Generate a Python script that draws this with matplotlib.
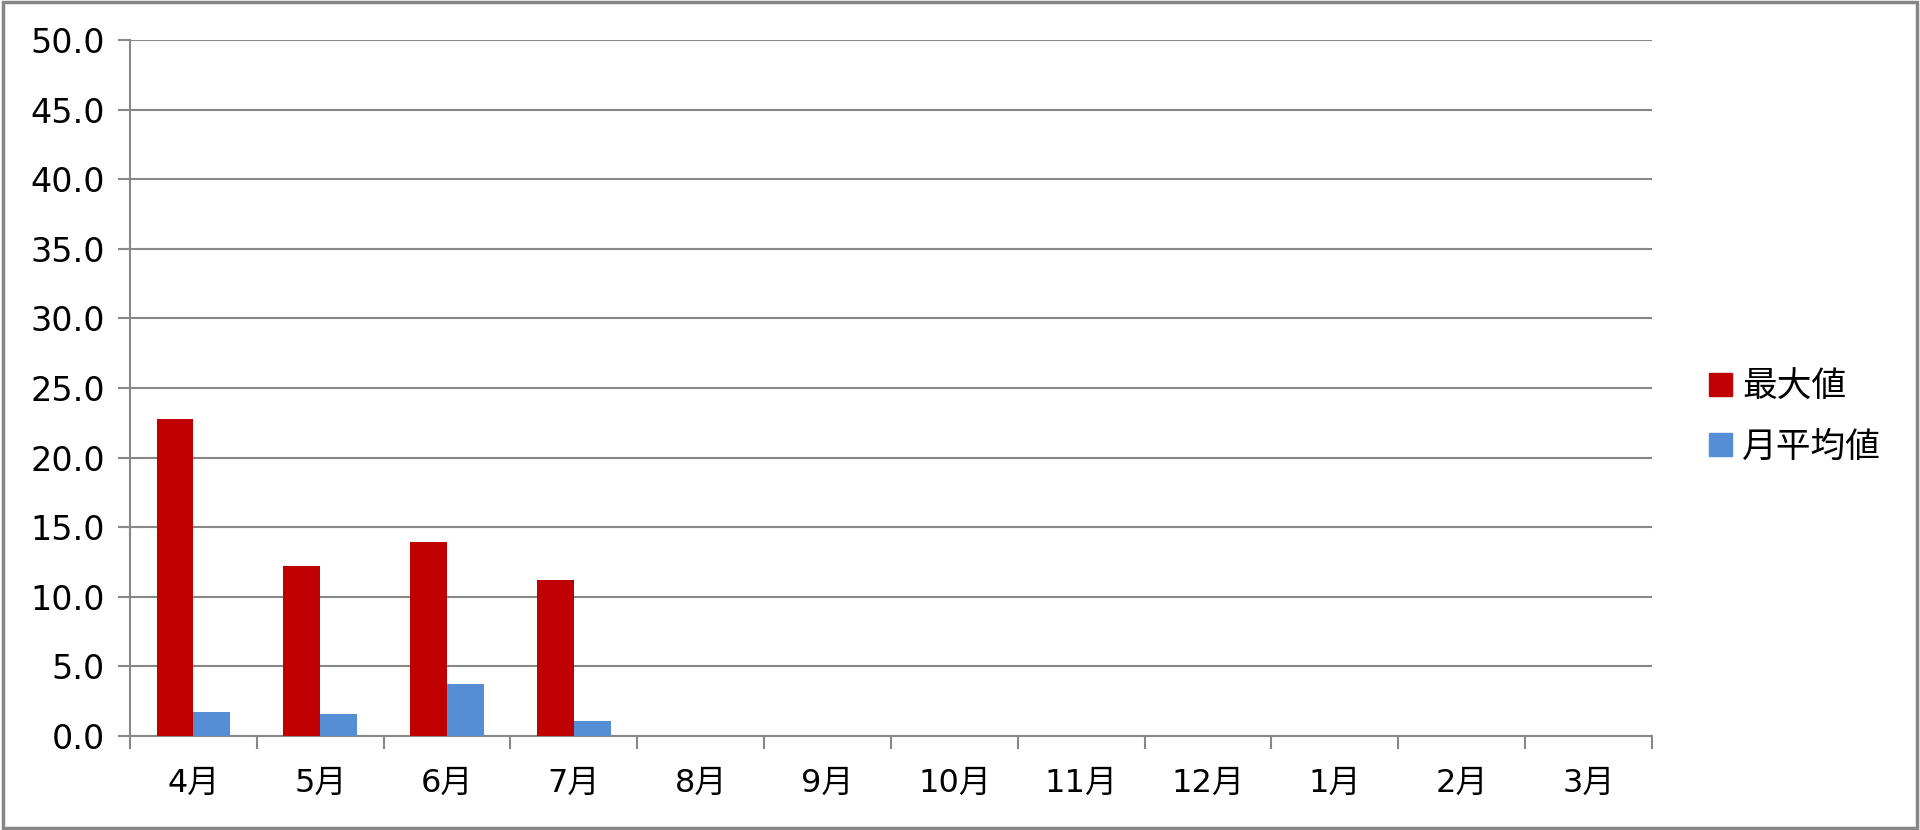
#!/usr/bin/env python3
"""Monthly max / average bar chart (April to March)."""
import matplotlib
matplotlib.use("Agg")
import matplotlib.pyplot as plt
from matplotlib.patches import Patch, Rectangle
import numpy as np

# wide latin digits first, CJK glyphs fall back to Noto
plt.rcParams["font.family"] = ["DejaVu Sans", "Noto Sans CJK JP"]

MONTHS = ["4月", "5月", "6月", "7月", "8月", "9月", "10月", "11月", "12月", "1月", "2月", "3月"]
MAX_VALUES = [22.8, 12.2, 13.9, 11.2]
AVG_VALUES = [1.7, 1.6, 3.7, 1.1]
SERIES_NAMES = ["最大値", "月平均値"]
Y_TICKS = np.arange(0, 50.1, 5)

RED = "#C00000"
BLUE = "#558ED5"
GRID = "#878787"

fig = plt.figure(figsize=(19.2, 8.3), dpi=100)
ax = fig.add_axes([0.0677, 0.1133, 0.7927, 0.8385])

width = 0.29
x_data = np.arange(len(MAX_VALUES))
ax.bar(x_data - width / 2, MAX_VALUES, width, color=RED, zorder=3)
ax.bar(x_data + width / 2, AVG_VALUES, width, color=BLUE, zorder=3)

ax.set_xlim(-0.5, len(MONTHS) - 0.5)
ax.set_ylim(0, 50)

ax.set_yticks(Y_TICKS)
ax.set_yticklabels([f"{v:.1f}" for v in Y_TICKS], fontsize=24)
ax.yaxis.grid(True, color=GRID, linewidth=1.5, zorder=0)

ax.set_xticks(np.arange(len(MONTHS)))
ax.set_xticklabels(MONTHS, fontsize=23)
ax.set_xticks(np.arange(len(MONTHS) + 1) - 0.5, minor=True)
ax.tick_params(axis="x", which="major", length=0, pad=23)
ax.tick_params(axis="x", which="minor", length=9, width=1.5, color=GRID)
ax.tick_params(axis="y", length=9, width=1.5, color=GRID, pad=9)

for side in ["top", "right"]:
    ax.spines[side].set_visible(False)
for side in ["left", "bottom"]:
    ax.spines[side].set_color(GRID)
    ax.spines[side].set_linewidth(1.5)

handles = [Patch(color=RED), Patch(color=BLUE)]
fig.legend(handles, SERIES_NAMES, loc="center left", bbox_to_anchor=(0.874, 0.498),
           frameon=False, fontsize=25, handlelength=0.65, handleheight=0.65,
           handletextpad=0.3, labelspacing=0.75)

fig.patches.append(Rectangle((0.0015, 0.0025), 0.997, 0.995, transform=fig.transFigure,
                             fill=False, edgecolor=GRID, linewidth=2.5))

fig.savefig("out.png", dpi=100, facecolor="white")
